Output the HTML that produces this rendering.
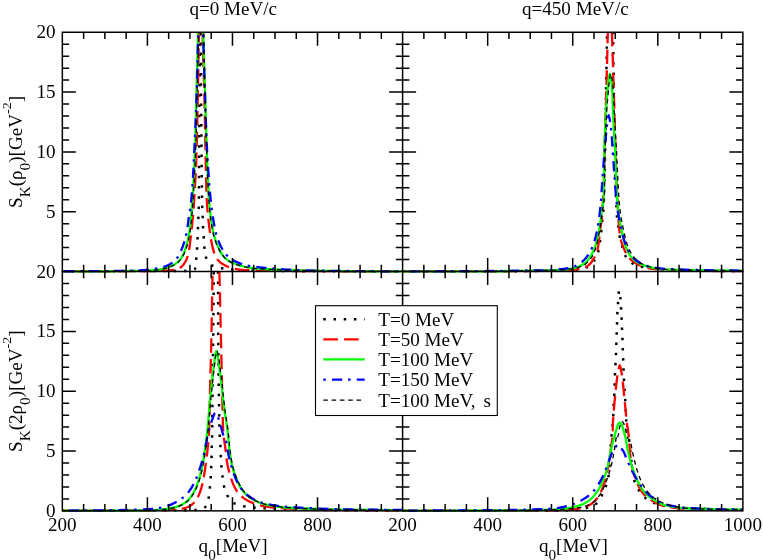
<!DOCTYPE html>
<html><head><meta charset="utf-8"><title>Spectral functions</title>
<style>
html,body{margin:0;padding:0;background:#fff;}
body{width:763px;height:560px;overflow:hidden;font-family:"Liberation Serif",serif;}
svg{display:block}
</style></head><body>
<svg width="763" height="560" viewBox="0 0 763 560" style="display:block">
<rect width="763" height="560" fill="#fff"/>
<defs>
<clipPath id="cTL"><rect x="61.84" y="32.06" width="341.26" height="240.99"/></clipPath>
<clipPath id="cTR"><rect x="402.1" y="32.06" width="341.26" height="240.99"/></clipPath>
<clipPath id="cBL"><rect x="61.84" y="271.35" width="341.26" height="241"/></clipPath>
<clipPath id="cBR"><rect x="402.1" y="271.35" width="341.26" height="241"/></clipPath>
</defs>
<g clip-path="url(#cTL)" fill="none" stroke-linecap="butt" stroke-linejoin="round">
<path d="M62.34 271.45C96.75 271.19 131.15 271.05 165.56 271.05C168.79 271.05 172.03 271.05 175.27 271.05C178.73 271.05 182.23 270.98 185.66 270.88C188.76 270.78 194.11 270.04 194.86 269C195.67 267.91 195.87 262.43 196.23 259.12C196.57 255.89 196.89 252.65 197.08 249.41C197.49 242.32 197.65 235.21 197.93 228.11C198.21 221.01 198.69 213.92 198.78 206.82C199.13 177.89 199.11 148.94 199.3 120C199.45 97.33 199.71 74.67 199.8 52C200.07 -15.33 200.13 -150 200.3 -150" stroke="#000" stroke-width="2.5" stroke-dasharray="2.5 7.7" stroke-dashoffset="0.76"/>
<path d="M200.3 -150C200.47 -150 200.53 -15.33 200.8 52C200.89 74.67 201.11 97.33 201.3 120C201.55 148.94 201.59 177.9 202.19 206.82C202.26 210.22 202.56 213.63 202.7 217.04C202.84 220.44 202.89 223.86 203.04 227.26C203.19 230.56 203.5 233.85 203.72 237.14C203.95 240.55 204.08 243.98 204.4 247.37C204.73 250.79 205.21 254.54 206.11 257.59C206.94 260.41 209.53 263.92 211.9 265.26C214.44 266.69 218.44 267.52 221.78 268.15C225.02 268.76 228.36 269.21 231.66 269.52C235 269.82 238.36 270.11 241.72 270.2C245.18 270.29 248.65 270.31 252.11 270.37C268.07 270.63 284.04 271.06 300 271.15C334.2 271.34 368.4 271.45 402.6 271.45" stroke="#000" stroke-width="2.5" stroke-dasharray="2.5 7.7" stroke-dashoffset="1.39"/>
<path d="M62.34 271.45C91.64 271.45 120.93 271.31 150.22 271.05C155.33 271 160.47 270.91 165.56 270.71C169.55 270.55 173.92 269.97 177.48 269C179.65 268.42 182.02 266.45 183.45 264.74C185.3 262.53 186.93 259.19 187.71 256.23C189.52 249.26 190.26 241.49 191.11 234.08C192.42 222.76 193.45 211.37 194.18 200C195.35 181.7 196.29 163.34 196.8 145C197.22 130.01 197.42 115 197.7 100C198.12 77.67 198.68 55.33 198.9 33C199.85 -61.33 199.99 -250 200.6 -250" stroke="#f00" stroke-width="2.3" stroke-dasharray="14.6 6.2" stroke-dashoffset="6.96"/>
<path d="M200.6 -250C201.21 -250 201.38 -61.31 202.6 33C202.89 55.34 203.98 77.66 204.5 100C204.85 115 205.07 130 205.4 145C205.81 163.33 206.01 181.71 206.79 200C207.27 211.38 208.63 222.81 210.2 234.08C210.99 239.79 212 245.67 213.6 251.11C214.47 254.05 215.82 257.34 217.52 259.63C219.29 262.01 222.41 264.17 225.19 265.6C227.28 266.67 229.68 267.6 232.01 268.15C235.32 268.94 238.8 269.62 242.23 269.86C247.87 270.24 253.58 270.43 259.27 270.54C279.5 270.9 299.75 271.04 320 271.15C347.53 271.3 375.07 271.45 402.6 271.45" stroke="#f00" stroke-width="2.3" stroke-dasharray="14.6 6.2" stroke-dashoffset="9.6"/>
<path d="M62.34 271.35C78.23 271.35 94.11 271.31 110 271.25C122.27 271.2 134.57 271.06 146.82 270.71C150.23 270.61 153.66 270.26 157.04 269.86C159.9 269.51 162.79 268.89 165.56 268.15C168.47 267.37 171.53 266.2 174.08 264.74C176.26 263.5 178.5 261.58 180.04 259.63C181.94 257.23 183.55 254.08 184.64 251.11C186.63 245.73 188.12 239.83 189.07 234.08C189.99 228.47 190.57 222.73 191.11 217.04C191.66 211.37 192.11 205.68 192.48 200C193.65 181.69 194.61 163.34 195.2 145C195.69 130.01 195.93 115 196.3 100C196.86 77.67 197.53 55.34 198 33C199.07 -17.99 199.73 -120 200.6 -120C201.47 -120 202.03 -17.99 203.2 33C203.71 55.34 204.63 77.67 205.3 100C205.75 115 206.08 130 206.6 145C207.23 163.34 207.81 181.71 209 200C209.38 205.69 210 211.38 210.71 217.04C211.43 222.74 212.3 228.55 213.6 234.08C214.98 239.91 217.26 245.98 220.08 251.11C221.76 254.19 224.22 257.56 226.89 259.63C229.69 261.8 233.57 263.61 237.12 264.74C241.99 266.3 247.28 267.54 252.45 268.15C255.83 268.55 259.26 268.81 262.67 269C275.1 269.71 287.55 270.16 300 270.45C310 270.68 320 270.84 330 270.95C343.33 271.09 356.67 271.16 370 271.25C380.87 271.32 391.73 271.39 402.6 271.45" stroke="#0f0" stroke-width="2.3"/>
<path d="M62.34 271.25C76.56 271.25 90.78 271.16 105 271.05C116.67 270.96 128.36 270.78 140 270.37C143.41 270.25 146.83 269.89 150.22 269.52C153.65 269.13 157.12 268.58 160.45 267.81C163.35 267.14 166.36 266.05 168.96 264.74C171.42 263.51 173.99 261.63 175.78 259.63C177.87 257.31 179.59 254.09 180.89 251.11C183.23 245.76 185.16 239.86 186.34 234.08C187.49 228.5 188 222.71 188.9 217.04C189.44 213.63 190.25 210.24 190.6 206.82C192.74 186.36 193.59 165.62 194.6 145C195.33 130.01 195.91 115 196.4 100C197.13 77.67 197.69 55.34 198.2 33C199.14 -8 199.78 -90 200.6 -90" stroke="#00f" stroke-width="2.3" stroke-dasharray="2.5 6.2 10.2 5.9" stroke-dashoffset="6.7"/>
<path d="M200.6 -90C201.42 -90 202.07 -7.99 203.1 33C203.66 55.34 204.45 77.67 205.2 100C205.7 115 206.09 130.01 206.8 145C207.75 165.06 209.13 185.16 211.22 205.11C211.64 209.1 212.28 213.08 212.92 217.04C213.85 222.74 214.7 228.59 216.16 234.08C217.72 239.95 220.29 246.22 223.49 251.11C225.56 254.29 228.8 257.59 232.01 259.63C235.46 261.83 239.82 263.73 243.93 264.74C248.86 265.96 254.13 266.74 259.27 267.3C262.66 267.67 266.08 267.9 269.49 268.15C279.65 268.91 289.82 269.82 300 270.15C309.99 270.47 320 270.66 330 270.8C343.33 270.99 356.67 271.08 370 271.2C380.87 271.29 391.73 271.38 402.6 271.45" stroke="#00f" stroke-width="2.3" stroke-dasharray="2.5 6.2 10.2 5.9" stroke-dashoffset="24.39"/>
<path d="M62.94 271.35C78.83 271.35 94.71 271.31 110.6 271.25C122.87 271.2 135.17 271.06 147.42 270.71C150.83 270.61 154.26 270.26 157.64 269.86C160.5 269.51 163.39 268.89 166.16 268.15C169.07 267.37 172.13 266.2 174.68 264.74C176.86 263.5 179.1 261.58 180.64 259.63C182.54 257.23 184.15 254.08 185.24 251.11C187.23 245.73 188.72 239.83 189.67 234.08C190.59 228.47 191.17 222.73 191.71 217.04C192.26 211.37 192.71 205.68 193.08 200C194.25 181.69 195.21 163.34 195.8 145C196.29 130.01 196.53 115 196.9 100C197.46 77.67 198.13 55.34 198.6 33C199.67 -17.99 200.33 -120 201.2 -120C202.07 -120 202.87 -18 203.8 33C204.21 55.33 204.57 77.67 205.1 100C205.45 115 205.88 130 206.4 145C207.03 163.34 207.61 181.71 208.8 200C209.18 205.69 209.8 211.38 210.51 217.04C211.23 222.74 212.1 228.55 213.4 234.08C214.78 239.91 217.06 245.98 219.88 251.11C221.56 254.19 224.02 257.56 226.69 259.63C229.49 261.8 233.37 263.61 236.92 264.74C241.79 266.3 247.08 267.54 252.25 268.15C255.63 268.55 259.06 268.81 262.47 269C274.9 269.71 287.35 270.16 299.8 270.45C309.8 270.68 319.8 270.84 329.8 270.95C343.13 271.09 356.47 271.16 369.8 271.25C380.67 271.32 391.53 271.39 402.4 271.45" stroke="#000" stroke-width="1.3" stroke-dasharray="4.6 3.7"/>
</g>
<g clip-path="url(#cTR)" fill="none" stroke-linecap="butt" stroke-linejoin="round">
<path d="M402.6 271.45C428.4 271.45 454.2 271.41 480 271.35C508.52 271.29 537.22 271.14 565.56 270.48C572.52 270.32 580.44 269.21 586.34 267.41C589.26 266.52 592.34 263.24 594.18 260.6C595.94 258.07 597.49 254.69 598.27 251.57C599.08 248.3 599.47 244.76 599.97 241.34C600.48 237.94 600.98 234.54 601.34 231.12C601.68 227.89 601.87 224.64 602.19 221.41C602.53 218 603.22 214.6 603.38 211.19C605.26 170.59 605.36 129.66 606.11 88.89C606.23 82.08 606.33 75.26 606.45 68.45C606.56 61.63 606.68 54.82 606.79 48C607.82 -18 608.54 -150 609.6 -150" stroke="#000" stroke-width="2.5" stroke-dasharray="2.5 7.7" stroke-dashoffset="0.43"/>
<path d="M609.6 -150C610.66 -150 612.32 -18 613.26 48C613.46 61.63 613.56 75.26 613.77 88.89C614.45 131.65 614.71 174.68 617.01 217.15C617.18 220.28 617.94 223.39 618.37 226.52C618.85 229.93 619.14 233.37 619.74 236.74C620.29 239.9 621.24 243.02 622.12 246.11C623.03 249.27 623.8 252.75 625.19 255.48C626.72 258.5 629.67 261.81 632.52 263.49C635.13 265.04 638.69 266.16 641.89 266.9C645.21 267.67 648.69 268.23 652.11 268.6C657.87 269.24 663.69 269.8 669.49 269.97C693.9 270.67 718.34 271.05 742.86 271.05" stroke="#000" stroke-width="2.5" stroke-dasharray="2.5 7.7" stroke-dashoffset="1.91"/>
<path d="M402.6 271.45C428.4 271.45 454.2 271.41 480 271.35C505.68 271.29 531.39 271.04 557.04 270.48C564.43 270.32 572.15 269.97 579.19 269.12C582.6 268.7 586.52 266.79 589.07 264.86C591.06 263.34 592.62 260.44 594.01 258.04C595.25 255.89 596.68 253.58 597.25 251.23C598.94 244.24 599.37 236.47 600.31 229.08C601.04 223.4 602.02 217.73 602.36 212.04C604.3 179.81 604.61 147.32 605.6 114.96C606.02 101.16 606.42 87.36 606.79 73.56C607.16 59.76 607.48 45.96 607.81 32.16C608.54 1.44 609.22 -60 609.9 -60" stroke="#f00" stroke-width="2.3" stroke-dasharray="14.6 6.2" stroke-dashoffset="4.16"/>
<path d="M609.9 -60C610.58 -60 611.08 1.44 611.9 32.16C612.27 45.96 612.84 59.76 613.26 73.56C613.69 87.36 614.02 101.16 614.46 114.96C615.49 147.32 616.22 179.74 618.03 212.04C618.51 220.57 619 229.32 620.25 237.6C620.86 241.66 622.69 245.71 624.34 249.52C625.62 252.47 627.13 255.71 629.11 258.04C630.81 260.04 633.37 261.86 635.75 263.15C639.79 265.35 644.48 267.6 649.04 268.26C655.62 269.22 662.66 269.77 669.49 269.97C693.9 270.67 718.34 271.05 742.86 271.05" stroke="#f00" stroke-width="2.3" stroke-dasharray="14.6 6.2" stroke-dashoffset="12.15"/>
<path d="M402.6 271.45C428.4 271.45 454.2 271.39 480 271.3C500 271.23 520 270.82 540 270.48C545.68 270.38 551.37 270.33 557.04 270.14C562.16 269.96 567.42 269.42 572.37 268.6C575.87 268.03 579.68 266.55 582.6 264.86C585.18 263.36 587.63 260.56 589.41 258.04C591.88 254.55 594.03 250.25 595.37 246.11C597.14 240.69 598.29 234.8 599.29 229.08C600.27 223.44 600.91 217.72 601.68 212.04C602.44 206.36 603.79 200.7 603.89 195C604.13 181.5 604.05 167.86 604.23 154.3C604.44 139.53 605.3 124.75 606.11 110C606.42 104.38 606.83 98.76 607.3 93.15C607.68 88.6 608.03 84.03 608.66 79.52C608.94 77.52 609.43 73.56 609.86 73.56C610.28 73.56 610.95 77.52 611.22 79.52C611.82 84.01 612.2 88.6 612.41 93.15C612.67 98.76 612.71 104.39 612.92 110C613.47 124.77 614.65 139.53 615.31 154.3C615.91 167.86 616.08 181.46 616.84 195C617.16 200.69 617.71 206.39 618.37 212.04C619.05 217.75 620.13 223.44 621.27 229.08C622.43 234.8 623.62 240.73 625.53 246.11C627.01 250.28 629.25 254.98 632.01 258.04C634.5 260.82 638.57 263.47 642.23 264.86C646.93 266.64 652.38 267.96 657.56 268.6C661.49 269.09 665.51 269.5 669.49 269.63C693.89 270.39 718.33 270.75 742.86 270.75" stroke="#0f0" stroke-width="2.3"/>
<path d="M402.6 271.35C425.07 271.35 447.53 271.26 470 271.15C494.47 271.04 518.96 270.85 543.41 270.31C548.52 270.19 553.67 269.89 558.74 269.46C563.89 269.01 569.34 268.03 574.08 266.56C577.09 265.62 580.2 263.5 582.6 261.45C585.23 259.2 587.64 255.99 589.41 252.93C591.51 249.29 593.33 245.09 594.52 241C596.44 234.42 597.8 227.42 598.78 220.56C599.75 213.79 600.43 206.94 601 200.11C601.7 191.67 602.08 183.2 602.7 174.74C603.32 166.22 604.01 157.7 604.74 149.19C605.38 141.8 606 134.41 606.79 127.04C607.09 124.19 607.33 121.32 607.81 118.52C608.01 117.37 608.39 115.11 608.66 115.11C609.07 115.11 609.55 118.51 609.86 120.22C610.45 123.6 610.89 127.03 611.22 130.45C611.99 138.37 612.35 146.35 612.92 154.3C613.49 162.25 614.03 170.2 614.63 178.15C615.17 185.42 615.57 192.73 616.33 199.96C617.3 209.15 618.98 218.36 620.93 227.37C622.42 234.28 624.15 241.6 626.89 247.82C628.78 252.1 631.98 256.92 635.41 259.74C638.99 262.68 644.28 265.54 649.04 266.56C655.49 267.93 662.65 268.85 669.49 269.12C693.84 270.07 718.26 270.55 742.86 270.55" stroke="#00f" stroke-width="2.3" stroke-dasharray="2.5 6.2 10.2 5.9" stroke-dashoffset="1.69"/>
<path d="M402.6 271.45C428.4 271.45 454.2 271.39 480 271.3C500 271.23 520 270.82 540 270.48C545.68 270.38 551.37 270.33 557.04 270.14C562.44 269.96 567.95 269.41 573.22 268.6C576.7 268.07 580.51 266.87 583.45 265.37C586.35 263.88 589.29 260.82 591.11 258.04C593.34 254.64 595.04 250.21 596.23 246.11C597.82 240.62 598.84 234.79 599.8 229.08C600.75 223.43 601.42 217.72 602.19 212.04C602.95 206.36 604.26 200.7 604.4 195C604.75 181.5 604.65 167.86 604.91 154.3C605.2 139.53 605.93 124.75 606.79 110C607.12 104.38 607.65 98.76 608.15 93.15C608.56 88.6 608.89 84.03 609.52 79.52C609.79 77.52 610.28 73.56 610.71 73.56C611.13 73.56 611.78 77.52 612.07 79.52C612.73 84.01 613.17 88.6 613.43 93.15C613.76 98.76 613.86 104.39 614.12 110C614.8 124.77 615.88 139.53 616.67 154.3C617.4 167.86 617.81 181.45 618.72 195C619.1 200.69 619.57 206.39 620.25 212.04C620.94 217.75 622.12 223.44 623.32 229.08C624.54 234.8 625.76 240.75 627.75 246.11C629.3 250.3 631.72 254.89 634.56 258.04C637.02 260.76 640.77 263.48 644.27 264.86C648.83 266.64 654.2 267.9 659.27 268.6C662.63 269.07 666.08 269.52 669.49 269.63C693.87 270.42 718.3 270.75 742.86 270.75" stroke="#000" stroke-width="1.3" stroke-dasharray="4.6 3.7"/>
</g>
<g clip-path="url(#cBL)" fill="none" stroke-linecap="butt" stroke-linejoin="round">
<path d="M62.34 510.75C100.04 510.43 137.74 510.25 175.45 510.25C178.85 510.25 182.26 510.25 185.67 510.25C189.08 510.25 192.56 510.11 195.89 509.91C199.08 509.71 203.6 508.48 205.26 507.01C206.93 505.54 208.1 500.97 208.67 497.81C209.27 494.5 209.53 491 209.86 487.59C210.19 484.19 210.5 480.78 210.71 477.37C210.93 473.96 211.09 470.55 211.23 467.14C211.36 463.74 211.49 460.33 211.57 456.92C211.64 453.63 211.66 450.33 211.74 447.04C211.81 443.63 212.02 440.22 212.08 436.82C212.26 426.37 212.32 415.93 212.42 405.48C212.48 398.67 212.52 391.85 212.59 385.04C212.69 374.53 212.79 364.03 212.93 353.52C213.02 346.73 213.19 339.94 213.27 333.15C213.51 313.28 213.58 293.4 213.78 273.52C214.36 215.68 215.29 100 216 100" stroke="#000" stroke-width="2.5" stroke-dasharray="2.5 7.7" stroke-dashoffset="0.63"/>
<path d="M216 100C216.71 100 217.8 215.68 218.04 273.52C218.12 293.4 218.12 313.27 218.21 333.15C218.24 339.94 218.33 346.73 218.38 353.52C218.44 360.62 218.47 367.72 218.55 374.82C218.63 381.63 218.78 388.45 218.89 395.26C218.95 398.67 219.01 402.08 219.06 405.48C219.18 412.3 219.25 419.12 219.4 425.93C219.48 429.28 219.59 432.62 219.74 435.96C219.9 439.37 220.27 442.78 220.43 446.19C220.58 449.59 220.61 453 220.77 456.41C220.92 459.71 221.18 463 221.45 466.29C221.72 469.65 222.06 473 222.47 476.34C222.88 479.65 223.3 483.01 224 486.23C224.71 489.43 225.91 492.83 227.41 495.6C228.95 498.44 231.55 501.8 234.23 503.26C236.89 504.72 240.64 505.76 243.94 506.33C247.28 506.9 250.75 507.19 254.16 507.52C257.56 507.85 260.97 508.21 264.38 508.37C267.84 508.54 271.31 508.6 274.78 508.72C278.18 508.83 281.59 508.96 285 509.06C303.33 509.56 321.66 510.15 340 510.25C360.86 510.37 381.73 510.45 402.6 510.45" stroke="#000" stroke-width="2.5" stroke-dasharray="2.5 7.7" stroke-dashoffset="2.04"/>
<path d="M62.34 510.75C84.9 510.75 107.45 510.72 130 510.65C141.74 510.62 153.49 510.38 165.22 510.08C169.2 509.98 173.22 509.86 177.15 509.57C180.89 509.29 184.96 508.29 188.22 507.01C190.73 506.03 193.31 503.68 195.04 501.56C196.95 499.21 198.5 496 199.64 493.04C201.1 489.25 202.21 485.14 203.05 481.11C204.22 475.51 204.99 469.77 205.77 464.08C206.55 458.41 207.27 452.73 207.82 447.04C208.36 441.37 208.99 435.69 209.18 430C209.57 418.72 209.61 407.41 209.86 396.11C210.25 379.07 210.85 362.04 211.23 345C211.77 320.49 212.04 295.98 212.59 271.47C213.49 230.98 214.97 150 216.1 150" stroke="#f00" stroke-width="2.3" stroke-dasharray="14.6 6.2" stroke-dashoffset="5.36"/>
<path d="M216.1 150C217.23 150 218.4 230.98 219.4 271.47C220.01 295.98 220.54 320.49 221.11 345C221.5 362.04 221.89 379.08 222.3 396.11C222.57 407.41 222.65 418.75 223.15 430C223.41 435.7 224.49 441.36 225.2 447.04C225.91 452.72 226.44 458.46 227.41 464.08C228.21 468.67 229.41 473.29 230.82 477.71C232.12 481.79 233.77 486.09 235.93 489.63C237.84 492.77 240.68 496.01 243.6 498.15C246.99 500.65 251.37 502.88 255.52 504.12C260.93 505.72 266.83 506.95 272.56 507.52C276.67 507.93 280.85 508.18 285 508.37C303.31 509.22 321.66 509.9 340 510.05C360.86 510.23 381.73 510.35 402.6 510.35" stroke="#f00" stroke-width="2.3" stroke-dasharray="14.6 6.2" stroke-dashoffset="3.37"/>
<path d="M62.34 510.65C78.23 510.65 94.11 510.61 110 510.55C125 510.5 140.03 510.41 155 510.08C158.41 510 161.85 509.63 165.22 509.23C169.24 508.75 173.39 507.87 177.15 506.67C180.44 505.62 183.92 503.67 186.52 501.56C189.18 499.4 191.57 496.1 193.34 493.04C195.44 489.4 197.13 485.19 198.45 481.11C200.23 475.6 201.63 469.81 202.71 464.08C203.76 458.45 204.47 452.73 205.26 447.04C206.05 441.37 206.89 435.69 207.48 430C208.17 423.26 208.57 416.49 209.18 409.74C209.96 401.22 210.82 392.7 211.74 384.19C212.47 377.37 213.26 370.55 214.12 363.74C214.49 360.79 214.77 357.8 215.31 354.88C215.56 353.56 215.97 350.96 216.34 350.96C216.71 350.96 217.25 353.56 217.53 354.88C218.15 357.78 218.48 360.78 218.89 363.74C219.84 370.54 220.64 377.37 221.45 384.19C222.46 392.7 223.24 401.25 224.34 409.74C225.23 416.51 226.6 423.23 227.41 430C228.09 435.66 228.44 441.38 229.12 447.04C229.8 452.73 230.52 458.5 231.67 464.08C232.62 468.7 234.22 473.31 235.93 477.71C237.52 481.81 239.45 486.13 241.89 489.63C244.1 492.8 247.22 496.08 250.41 498.15C254.35 500.71 259.34 502.87 264.04 504.12C268.43 505.28 273.1 506.03 277.67 506.67C280.1 507.01 282.55 507.36 285 507.52C303.26 508.7 321.66 509.31 340 509.55C360.86 509.83 381.73 510.05 402.6 510.05" stroke="#0f0" stroke-width="2.3"/>
<path d="M62.34 510.55C78.23 510.55 94.12 510.42 110 510.25C125 510.09 140.14 509.74 155 508.72C157.28 508.56 159.58 508.03 161.82 507.52C165.29 506.74 168.79 505.51 172.04 504.12C175.61 502.59 179.2 500.49 182.26 498.15C184.75 496.25 187.17 493.83 189.08 491.34C191.41 488.28 193.38 484.65 195.04 481.11C196.83 477.29 198.3 473.22 199.64 469.19C201.12 464.71 202.44 460.14 203.56 455.56C204.52 451.61 205.32 447.62 206.11 443.63C207.02 439.1 207.56 434.45 208.67 430C209.38 427.17 210.5 424.4 211.57 421.67C212.74 418.67 214.07 412.81 215.48 412.81C216.38 412.81 217.61 416.38 218.38 418.26C219.28 420.45 219.93 422.79 220.6 425.08C221.41 427.89 221.9 430.84 222.81 433.6C223.56 435.86 225.07 437.95 225.71 440.22C227.09 445.13 227.46 450.5 228.6 455.56C229.9 461.29 231.47 467.05 233.37 472.6C234.77 476.66 236.38 480.9 238.49 484.52C240.65 488.24 243.74 492.07 247.01 494.74C250.84 497.88 255.83 500.94 260.64 502.41C265.98 504.05 271.95 505.01 277.67 505.82C280.1 506.16 282.55 506.49 285 506.67C303.27 508.04 321.66 508.95 340 509.25C360.86 509.59 381.72 509.85 402.6 509.85" stroke="#00f" stroke-width="2.3" stroke-dasharray="2.5 6.2 10.2 5.9" stroke-dashoffset="2.54"/>
<path d="M62.34 510.65C78.43 510.65 94.51 510.61 110.6 510.55C125.6 510.5 140.63 510.41 155.6 510.08C159.01 510 162.45 509.63 165.82 509.23C169.84 508.75 173.99 507.87 177.75 506.67C181.04 505.62 184.52 503.67 187.12 501.56C189.78 499.4 192.17 496.1 193.94 493.04C196.04 489.4 197.73 485.19 199.05 481.11C200.83 475.6 202.23 469.81 203.31 464.08C204.36 458.45 205.07 452.73 205.86 447.04C206.65 441.37 207.49 435.69 208.08 430C208.77 423.26 209.17 416.49 209.78 409.74C210.56 401.22 211.42 392.7 212.34 384.19C213.07 377.37 213.86 370.55 214.72 363.74C215.09 360.79 215.37 357.8 215.91 354.88C216.16 353.56 216.57 350.96 216.94 350.96C217.31 350.96 217.85 353.56 218.13 354.88C218.75 357.78 219.08 360.78 219.49 363.74C220.44 370.54 221.24 377.37 222.05 384.19C223.06 392.7 223.84 401.25 224.94 409.74C225.83 416.51 227.2 423.23 228.01 430C228.69 435.66 229.04 441.38 229.72 447.04C230.4 452.73 231.12 458.5 232.27 464.08C233.22 468.7 234.82 473.31 236.53 477.71C238.12 481.81 240.05 486.13 242.49 489.63C244.7 492.8 247.82 496.08 251.01 498.15C254.95 500.71 259.94 502.87 264.64 504.12C269.03 505.28 273.7 506.03 278.27 506.67C280.7 507.01 283.15 507.36 285.6 507.52C303.86 508.7 322.26 509.3 340.6 509.55C361.26 509.83 381.93 510.05 402.6 510.05" stroke="#000" stroke-width="1.3" stroke-dasharray="4.6 3.7"/>
</g>
<g clip-path="url(#cBR)" fill="none" stroke-linecap="butt" stroke-linejoin="round">
<path d="M402.6 510.75C435.07 510.75 467.53 510.71 500 510.65C524.01 510.61 548.22 510.59 572.04 510.31C576.89 510.25 581.86 509.07 586.52 507.92C589.74 507.13 593.49 505.78 595.89 504C598.35 502.19 600.26 498.49 601.85 495.48C603.56 492.28 605.02 488.76 606.11 485.26C607.16 481.94 608.23 478.49 608.67 475.04C609.28 470.28 609.52 465.39 609.86 460.56C610.39 453.18 610.63 445.78 611.23 438.41C611.57 434.17 612.24 429.95 612.59 425.71C612.87 422.31 613.12 418.9 613.27 415.48C613.42 412.08 613.46 408.67 613.61 405.26C613.76 401.85 614.14 398.45 614.29 395.04C614.44 391.63 614.52 388.22 614.63 384.82C614.75 381.41 614.84 378 614.97 374.59C615.11 371.18 615.31 367.78 615.48 364.37C615.65 360.99 615.86 357.61 616 354.23C616.13 350.82 616.22 347.41 616.34 344C616.45 340.6 616.56 337.19 616.68 333.78C616.79 330.37 616.9 326.97 617.02 323.56C617.13 320.15 617.21 316.74 617.36 313.34C617.51 309.93 617.78 306.52 618.04 303.11C618.37 298.91 618.73 290.5 619.23 290.5C619.54 290.5 620.18 295.49 620.43 298C620.75 301.39 620.91 304.81 621.11 308.22C621.3 311.63 621.48 315.04 621.62 318.45C621.75 321.74 621.83 325.04 621.96 328.33C622.1 331.74 622.33 335.14 622.47 338.55C622.61 341.96 622.7 345.37 622.81 348.77C622.92 352.18 623.04 355.59 623.15 359C623.26 362.32 623.36 365.65 623.49 368.97C623.63 372.55 623.82 376.13 624 379.71C624.16 382.83 624.33 385.95 624.52 389.08C624.72 392.6 624.99 396.12 625.2 399.64C625.58 406.34 625.72 413.06 626.22 419.74C626.47 423.16 626.94 426.57 627.41 429.97C627.88 433.36 628.66 436.72 629.12 440.11C630.03 446.9 630.48 453.76 631.33 460.56C632.15 467.1 632.72 473.92 634.23 480.15C635.01 483.39 636.79 486.62 638.49 489.52C640.09 492.26 642.15 495.13 644.45 497.19C646.97 499.44 650.27 501.6 653.48 502.81C656.51 503.96 659.92 504.74 663.19 505.37C666.56 506.01 669.99 506.52 673.41 506.9C677.26 507.33 681.13 507.73 685 507.92C704.25 508.89 723.52 509.65 742.86 509.65" stroke="#000" stroke-width="2.5" stroke-dasharray="2.5 7.7" stroke-dashoffset="0.3"/>
<path d="M402.6 510.75C435.07 510.75 467.53 510.68 500 510.6C518.33 510.55 536.68 510.51 555 510.31C560.68 510.24 566.4 509.91 572.04 509.46C576.04 509.14 580.22 508.43 583.96 507.41C587.26 506.51 590.72 504.41 593.34 502.3C595.77 500.34 598.07 497.41 599.64 494.63C601.67 491.04 603.15 486.77 604.41 482.71C605.79 478.26 606.95 473.66 607.82 469.08C608.88 463.45 609.58 457.73 610.37 452.04C611.16 446.37 612.33 440.7 612.59 435C612.77 431.07 612.77 427.1 612.93 423.15C613.27 414.62 614.19 406.1 614.97 397.6C615.61 390.77 616.24 383.93 617.19 377.15C617.59 374.3 618.07 371.43 618.72 368.63C618.99 367.48 619.42 365.22 619.74 365.22C620.23 365.22 620.77 368.61 621.11 370.33C621.87 374.26 622.33 378.28 622.81 382.26C623.62 389.06 624.17 395.89 624.86 402.71C625.54 409.52 626.09 416.36 626.9 423.15C627.38 427.11 628.19 431.04 628.6 435C629.2 440.66 629.38 446.38 629.97 452.04C630.56 457.74 631.37 463.5 632.52 469.08C633.48 473.7 634.98 478.4 636.78 482.71C638.27 486.28 640.36 489.98 642.75 492.93C644.81 495.49 647.64 497.9 650.41 499.74C654.02 502.14 658.17 504.63 662.34 505.71C667.19 506.97 672.54 507.67 677.67 508.26C680.11 508.54 682.55 508.86 685 508.94C704.24 509.58 723.5 509.85 742.86 509.85" stroke="#f00" stroke-width="2.3" stroke-dasharray="14.6 6.2" stroke-dashoffset="3.14"/>
<path d="M402.6 510.65C431.73 510.65 460.87 510.59 490 510.5C511.67 510.43 533.4 510.26 555 509.63C558.41 509.53 561.84 509.06 565.22 508.6C569.81 507.99 574.52 507.04 578.85 505.71C582.41 504.61 586.14 502.71 589.08 500.6C592.33 498.25 595.32 494.64 597.6 491.23C599.99 487.63 601.96 483.4 603.56 479.3C605.27 474.9 606.68 470.27 607.82 465.67C609.2 460.07 609.93 454.27 611.23 448.63C612.27 444.08 613.55 439.58 614.8 435.08C615.4 432.91 616 430.74 616.68 428.6C617.15 427.12 617.48 425.42 618.21 424.17C618.55 423.6 619.22 422.64 619.74 422.64C620.3 422.64 621.09 423.59 621.45 424.17C622.47 425.82 622.87 428.25 623.49 430.31C624.3 433.01 625.13 435.73 625.71 438.49C626.41 441.83 626.75 445.27 627.41 448.63C628.55 454.36 629.98 460.09 631.67 465.67C633.07 470.29 634.78 474.93 636.78 479.3C638.67 483.42 640.86 487.78 643.6 491.23C645.88 494.1 649.02 496.83 652.12 498.89C655.72 501.29 659.89 503.71 664.04 504.86C669.44 506.35 675.36 507.3 681.08 507.92C682.38 508.06 683.69 508.2 685 508.26C704.24 509.13 723.51 509.65 742.86 509.65" stroke="#0f0" stroke-width="2.3"/>
<path d="M402.6 510.55C428.4 510.55 454.2 510.42 480 510.25C505 510.08 530.31 509.91 555 508.6C556.14 508.54 557.28 508.17 558.41 507.92C562.98 506.93 567.66 505.97 572.04 504.52C576.15 503.15 580.31 501.14 583.96 498.89C587.65 496.62 591.39 493.6 594.19 490.37C597.36 486.72 599.92 482.03 602.2 477.6C603.78 474.51 605.13 471.25 606.4 468C607.27 465.78 607.98 463.49 608.8 461.25C609.84 458.42 610.71 455.48 612 452.8C613.07 450.57 614.31 448.01 616 446.4C616.67 445.77 617.78 444.8 618.5 444.8C619.58 444.8 620.41 447.1 621.3 448.3C622.14 449.44 623.05 450.57 623.7 451.8C624.87 454 625.56 456.52 626.56 458.85C627.91 462.01 629.31 465.15 630.82 468.22C632.67 471.98 634.64 475.71 636.78 479.3C638.88 482.8 640.99 486.49 643.6 489.52C646.03 492.35 649.06 495 652.12 497.19C655.78 499.81 659.84 502.69 664.04 504C669.36 505.66 675.36 506.55 681.08 507.41C682.38 507.61 683.69 507.85 685 507.92C704.19 509.02 723.43 509.55 742.86 509.55" stroke="#00f" stroke-width="2.3" stroke-dasharray="2.5 6.2 10.2 5.9" stroke-dashoffset="3.19"/>
<path d="M402.6 510.65C431.73 510.65 460.87 510.59 490 510.5C511.67 510.43 533.36 510.17 555 509.63C560.68 509.48 566.4 509.12 572.04 508.6C576.04 508.24 580.18 507.55 583.96 506.56C587.54 505.62 591.39 503.62 594.19 501.45C596.86 499.38 599.21 495.98 601 492.93C603.45 488.76 605.27 483.94 606.97 479.3C608.59 474.85 610.09 470.27 611.23 465.67C612.61 460.07 613.53 454.32 614.63 448.63C615.51 444.09 616.11 435 617.19 435C617.33 435 617.55 436.78 617.7 436.78C618.39 436.78 618.75 431.08 619.4 428.26C619.8 426.55 620.1 424.7 620.77 423.15C621.03 422.54 621.53 421.45 621.96 421.45C622.43 421.45 623.15 422.53 623.49 423.15C624.57 425.1 625.04 427.68 625.71 429.97C626.52 432.78 626.71 436.2 627.92 438.49C628.25 439.1 629.31 439.5 629.63 440.11C631.27 443.29 631.55 448.07 632.52 452.04C633.92 457.72 635.09 463.5 636.78 469.08C638.18 473.7 639.81 478.41 641.89 482.71C643.48 485.99 645.54 489.33 647.86 492.08C650 494.62 652.74 497.06 655.52 498.89C658.62 500.94 662.2 502.84 665.75 504C670.63 505.61 675.91 506.76 681.08 507.58C682.38 507.79 683.69 508.02 685 508.09C704.19 509.15 723.43 509.65 742.86 509.65" stroke="#000" stroke-width="1.3" stroke-dasharray="4.6 3.7"/>
</g>
<g fill="none" stroke="#000" stroke-width="1.5" stroke-linecap="square">
<rect x="62.34" y="32.26" width="680.52" height="478.59"/>
<path d="M402.6 32.26V510.85M62.34 271.55H742.86"/>
</g>
<path d="M83.61 32.26v6.8M83.61 264.75v13.6M83.61 510.85v-6.8M104.87 32.26v6.8M104.87 264.75v13.6M104.87 510.85v-6.8M126.14 32.26v6.8M126.14 264.75v13.6M126.14 510.85v-6.8M147.41 32.26v13.5M147.41 258.05v27M147.41 510.85v-13.5M168.67 32.26v6.8M168.67 264.75v13.6M168.67 510.85v-6.8M189.94 32.26v6.8M189.94 264.75v13.6M189.94 510.85v-6.8M211.2 32.26v6.8M211.2 264.75v13.6M211.2 510.85v-6.8M232.47 32.26v13.5M232.47 258.05v27M232.47 510.85v-13.5M253.74 32.26v6.8M253.74 264.75v13.6M253.74 510.85v-6.8M275 32.26v6.8M275 264.75v13.6M275 510.85v-6.8M296.27 32.26v6.8M296.27 264.75v13.6M296.27 510.85v-6.8M317.53 32.26v13.5M317.53 258.05v27M317.53 510.85v-13.5M338.8 32.26v6.8M338.8 264.75v13.6M338.8 510.85v-6.8M360.07 32.26v6.8M360.07 264.75v13.6M360.07 510.85v-6.8M381.33 32.26v6.8M381.33 264.75v13.6M381.33 510.85v-6.8M423.87 32.26v6.8M423.87 264.75v13.6M423.87 510.85v-6.8M445.13 32.26v6.8M445.13 264.75v13.6M445.13 510.85v-6.8M466.4 32.26v6.8M466.4 264.75v13.6M466.4 510.85v-6.8M487.67 32.26v13.5M487.67 258.05v27M487.67 510.85v-13.5M508.93 32.26v6.8M508.93 264.75v13.6M508.93 510.85v-6.8M530.2 32.26v6.8M530.2 264.75v13.6M530.2 510.85v-6.8M551.46 32.26v6.8M551.46 264.75v13.6M551.46 510.85v-6.8M572.73 32.26v13.5M572.73 258.05v27M572.73 510.85v-13.5M594 32.26v6.8M594 264.75v13.6M594 510.85v-6.8M615.26 32.26v6.8M615.26 264.75v13.6M615.26 510.85v-6.8M636.53 32.26v6.8M636.53 264.75v13.6M636.53 510.85v-6.8M657.8 32.26v13.5M657.8 258.05v27M657.8 510.85v-13.5M679.06 32.26v6.8M679.06 264.75v13.6M679.06 510.85v-6.8M700.33 32.26v6.8M700.33 264.75v13.6M700.33 510.85v-6.8M721.59 32.26v6.8M721.59 264.75v13.6M721.59 510.85v-6.8M62.34 44.22h6.8M395.8 44.22h13.6M742.86 44.22h-6.8M62.34 56.19h6.8M395.8 56.19h13.6M742.86 56.19h-6.8M62.34 68.15h6.8M395.8 68.15h13.6M742.86 68.15h-6.8M62.34 80.12h6.8M395.8 80.12h13.6M742.86 80.12h-6.8M62.34 92.08h13.5M389.1 92.08h27M742.86 92.08h-13.5M62.34 104.05h6.8M395.8 104.05h13.6M742.86 104.05h-6.8M62.34 116.01h6.8M395.8 116.01h13.6M742.86 116.01h-6.8M62.34 127.98h6.8M395.8 127.98h13.6M742.86 127.98h-6.8M62.34 139.94h6.8M395.8 139.94h13.6M742.86 139.94h-6.8M62.34 151.91h13.5M389.1 151.91h27M742.86 151.91h-13.5M62.34 163.87h6.8M395.8 163.87h13.6M742.86 163.87h-6.8M62.34 175.83h6.8M395.8 175.83h13.6M742.86 175.83h-6.8M62.34 187.8h6.8M395.8 187.8h13.6M742.86 187.8h-6.8M62.34 199.76h6.8M395.8 199.76h13.6M742.86 199.76h-6.8M62.34 211.73h13.5M389.1 211.73h27M742.86 211.73h-13.5M62.34 223.69h6.8M395.8 223.69h13.6M742.86 223.69h-6.8M62.34 235.66h6.8M395.8 235.66h13.6M742.86 235.66h-6.8M62.34 247.62h6.8M395.8 247.62h13.6M742.86 247.62h-6.8M62.34 259.59h6.8M395.8 259.59h13.6M742.86 259.59h-6.8M62.34 283.51h6.8M395.8 283.51h13.6M742.86 283.51h-6.8M62.34 295.48h6.8M395.8 295.48h13.6M742.86 295.48h-6.8M62.34 307.44h6.8M395.8 307.44h13.6M742.86 307.44h-6.8M62.34 319.41h6.8M395.8 319.41h13.6M742.86 319.41h-6.8M62.34 331.38h13.5M389.1 331.38h27M742.86 331.38h-13.5M62.34 343.34h6.8M395.8 343.34h13.6M742.86 343.34h-6.8M62.34 355.31h6.8M395.8 355.31h13.6M742.86 355.31h-6.8M62.34 367.27h6.8M395.8 367.27h13.6M742.86 367.27h-6.8M62.34 379.24h6.8M395.8 379.24h13.6M742.86 379.24h-6.8M62.34 391.2h13.5M389.1 391.2h27M742.86 391.2h-13.5M62.34 403.17h6.8M395.8 403.17h13.6M742.86 403.17h-6.8M62.34 415.13h6.8M395.8 415.13h13.6M742.86 415.13h-6.8M62.34 427.1h6.8M395.8 427.1h13.6M742.86 427.1h-6.8M62.34 439.06h6.8M395.8 439.06h13.6M742.86 439.06h-6.8M62.34 451.02h13.5M389.1 451.02h27M742.86 451.02h-13.5M62.34 462.99h6.8M395.8 462.99h13.6M742.86 462.99h-6.8M62.34 474.96h6.8M395.8 474.96h13.6M742.86 474.96h-6.8M62.34 486.92h6.8M395.8 486.92h13.6M742.86 486.92h-6.8M62.34 498.88h6.8M395.8 498.88h13.6M742.86 498.88h-6.8" fill="none" stroke="#000" stroke-width="1.5"/>
<rect x="315.5" y="305.7" width="181.8" height="109.8" fill="#fff" stroke="#000" stroke-width="1.1"/>
<path d="M323.3 319.3H364.7" fill="none" stroke="#000" stroke-width="2.5" stroke-dasharray="2.5 7.7"/>
<path d="M323.3 339.4H364.7" fill="none" stroke="#f00" stroke-width="2.3" stroke-dasharray="14.6 6.2"/>
<path d="M323.3 359.3H364.7" fill="none" stroke="#0f0" stroke-width="2.3"/>
<path d="M323.3 379.7H364.7" fill="none" stroke="#00f" stroke-width="2.3" stroke-dasharray="2.5 6.2 10.2 5.9"/>
<path d="M323.3 400.1H364.7" fill="none" stroke="#000" stroke-width="1.3" stroke-dasharray="4.6 3.7"/>
<g font-family="'Liberation Serif', serif" font-size="19.1px" fill="#000" opacity="0.999">
<text transform="translate(378.3 325.8) scale(1 0.94)" text-anchor="start">T=0 MeV</text>
<text transform="translate(378.3 345.9) scale(1 0.94)" text-anchor="start">T=50 MeV</text>
<text transform="translate(378.3 365.8) scale(1 0.94)" text-anchor="start">T=100 MeV</text>
<text transform="translate(378.3 386.2) scale(1 0.94)" text-anchor="start">T=150 MeV</text>
<text transform="translate(378.3 406.6) scale(1 0.94)" text-anchor="start">T=100 MeV,<tspan dx="3.2"> s</tspan></text>
<text transform="translate(233.17 14.6) scale(1 0.94)" text-anchor="middle">q=0 MeV/c</text>
<text transform="translate(575.33 14.6) scale(1 0.94)" text-anchor="middle">q=450 MeV/c</text>
<text transform="translate(62.34 530.7) scale(1 0.94)" text-anchor="middle">200</text>
<text transform="translate(147.41 530.7) scale(1 0.94)" text-anchor="middle">400</text>
<text transform="translate(232.47 530.7) scale(1 0.94)" text-anchor="middle">600</text>
<text transform="translate(317.53 530.7) scale(1 0.94)" text-anchor="middle">800</text>
<text transform="translate(402.6 530.7) scale(1 0.94)" text-anchor="middle">200</text>
<text transform="translate(487.67 530.7) scale(1 0.94)" text-anchor="middle">400</text>
<text transform="translate(572.73 530.7) scale(1 0.94)" text-anchor="middle">600</text>
<text transform="translate(657.8 530.7) scale(1 0.94)" text-anchor="middle">800</text>
<text transform="translate(742.86 530.7) scale(1 0.94)" text-anchor="middle">1000</text>
<text transform="translate(55.6 38.26) scale(1 0.94)" text-anchor="end">20</text>
<text transform="translate(55.6 98.08) scale(1 0.94)" text-anchor="end">15</text>
<text transform="translate(55.6 157.91) scale(1 0.94)" text-anchor="end">10</text>
<text transform="translate(55.6 217.73) scale(1 0.94)" text-anchor="end">5</text>
<text transform="translate(55.6 277.55) scale(1 0.94)" text-anchor="end">20</text>
<text transform="translate(55.6 337.38) scale(1 0.94)" text-anchor="end">15</text>
<text transform="translate(55.6 397.2) scale(1 0.94)" text-anchor="end">10</text>
<text transform="translate(55.6 457.03) scale(1 0.94)" text-anchor="end">5</text>
<text transform="translate(55.6 516.85) scale(1 0.94)" text-anchor="end">0</text>
<text transform="translate(233.17 552) scale(1 0.94)" text-anchor="middle">q<tspan font-size="15.28px" dy="8.2">0</tspan><tspan dy="-8.2">[MeV]</tspan></text>
<text transform="translate(573.43 552) scale(1 0.94)" text-anchor="middle">q<tspan font-size="15.28px" dy="8.2">0</tspan><tspan dy="-8.2">[MeV]</tspan></text>
<text transform="translate(22.4 151.91) rotate(-90) scale(1 0.94)" text-anchor="middle">S<tspan font-size="15.28px" dy="8.2">K</tspan><tspan dy="-8.2">(ρ</tspan><tspan font-size="15.28px" dy="8.2">0</tspan><tspan dy="-8.2">)[GeV</tspan><tspan font-size="14.13px" dy="-11.7">-2</tspan><tspan dy="11.7">]</tspan></text>
<text transform="translate(22.4 391.2) rotate(-90) scale(1 0.94)" text-anchor="middle">S<tspan font-size="15.28px" dy="8.2">K</tspan><tspan dy="-8.2">(2ρ</tspan><tspan font-size="15.28px" dy="8.2">0</tspan><tspan dy="-8.2">)[GeV</tspan><tspan font-size="14.13px" dy="-11.7">-2</tspan><tspan dy="11.7">]</tspan></text>
</g>
</svg>
</body></html>
